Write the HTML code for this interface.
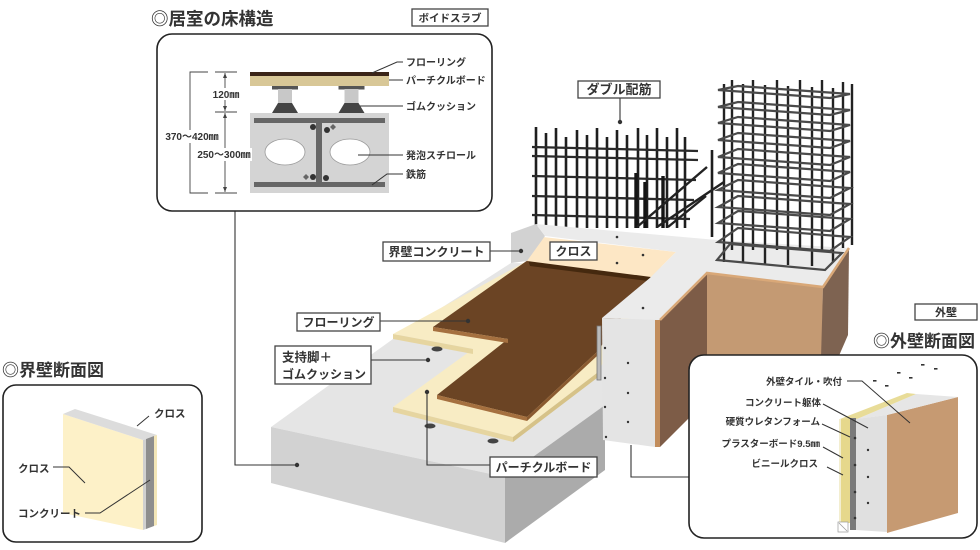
<!DOCTYPE html>
<html><head><meta charset="utf-8">
<style>
html,body{margin:0;padding:0;background:#fff;}
svg{display:block;}
text{font-family:"Liberation Sans","Noto Sans CJK JP",sans-serif;fill:#333;font-weight:bold;}
</style></head><body>
<svg width="980" height="550" viewBox="0 0 980 550" xmlns="http://www.w3.org/2000/svg">

<!-- ===== Rebar grid (double) ===== -->
<g stroke="#1e1e1e" stroke-width="2.6" stroke-linecap="butt">
<line x1="536" y1="127" x2="536" y2="228"/><line x1="546" y1="133" x2="546" y2="228"/>
<line x1="556" y1="128" x2="556" y2="228"/><line x1="566" y1="137" x2="566" y2="228"/>
<line x1="577" y1="130" x2="577" y2="228"/><line x1="587" y1="135" x2="587" y2="228"/>
<line x1="597" y1="128" x2="597" y2="228"/><line x1="607" y1="137" x2="607" y2="228"/>
<line x1="617" y1="130" x2="617" y2="228"/><line x1="627" y1="135" x2="627" y2="228"/>
<line x1="638" y1="128" x2="638" y2="228"/><line x1="647" y1="135" x2="647" y2="228"/>
<line x1="657" y1="128" x2="657" y2="228"/><line x1="667" y1="137" x2="667" y2="228"/>
<line x1="677" y1="128" x2="677" y2="228"/><line x1="685" y1="137" x2="685" y2="228"/>
<line x1="712" y1="150" x2="712" y2="237"/>
</g>
<g stroke="#2a2a2a" stroke-width="2.3">
<line x1="532" y1="147" x2="698" y2="151"/><line x1="532" y1="156" x2="698" y2="160"/>
<line x1="532" y1="176" x2="696" y2="180"/><line x1="532" y1="196" x2="694" y2="200"/>
<line x1="532" y1="215" x2="690" y2="219"/>
</g>
<g stroke="#151515" stroke-width="3.4">
<line x1="636" y1="173" x2="636" y2="228"/><line x1="645" y1="182" x2="645" y2="228"/>
<line x1="663" y1="176" x2="663" y2="228"/>
</g>
<g stroke="#222" stroke-width="2.4">
<line x1="637" y1="227" x2="707" y2="167"/><line x1="657" y1="227" x2="724" y2="182"/>
<line x1="668" y1="227" x2="706" y2="196"/>
</g>

<!-- ===== Slab ===== -->
<polygon points="271,427 393,339 511,263 720,268 605,405 505,477" fill="#e5e5e5"/>
<polygon points="271,427 505,477 505,543 271,483" fill="#d2d2d2"/>
<polygon points="505,477 605,405 605,470 505,543" fill="#ababab"/>

<!-- ===== Particle board ===== -->
<polygon points="393,334 473,349 393,407 513,437 597,373 655,276 527,261" fill="#f8ecc4"/>
<polygon points="393,334 473,349 473,354 393,339" fill="#e6d5a0"/>
<polygon points="393,407 513,437 513,442 393,412" fill="#e6d5a0"/>
<polygon points="513,437 597,373 597,378 513,442" fill="#d6c288"/>

<!-- ===== Flooring ===== -->
<polygon points="433,327 508,339 437,395 527,417 597,352 652,275 528,260" fill="#6b4424"/>
<polygon points="433,327 508,339 508,343 433,331" fill="#a5703f"/>
<polygon points="437,395 527,417 527,421 437,399" fill="#a5703f"/>
<polygon points="527,417 597,352 597,356 527,421" fill="#8a5a30"/>
<polygon points="528,260 652,275 648,281 530,266" fill="#45290f"/>

<!-- ===== Partition wall ===== -->
<polygon points="543,237 676,252 651,277 527,261" fill="#fde7c5"/>
<polygon points="511,233 536,224 545,236 527,261 511,263" fill="#d2d2d2"/>

<!-- ===== L wall top ===== -->
<polygon points="536,224 717,240 849,248 823,287 707,273 660,320 602,318 651,277 676,252 545,236" fill="#ebebeb"/>

<!-- wall end + brown faces -->
<polygon points="602,318 655,320 655,447 603,440" fill="#e4e4e4"/>
<polygon points="655,320 660,320 660,447 655,447" fill="#c28d5c"/>
<polygon points="660,320 707,273 707,400 660,447" fill="#7d5c47"/>
<polygon points="707,273 823,287 821,400 707,400" fill="#c49a73"/>
<polygon points="823,287 849,248 848,335 838,358 821,358" fill="#7e6351"/>
<polyline points="660,320 707,273 823,287 849,248" fill="none" stroke="#d9a878" stroke-width="2.5"/>
<rect x="597" y="326" width="4" height="54" fill="#bbb" stroke="#777" stroke-width="0.8"/>

<!-- ===== Column cage ===== -->
<g stroke="#222" stroke-width="2.4">
<line x1="724" y1="84" x2="724" y2="262"/><line x1="732" y1="80" x2="732" y2="250"/>
<line x1="743" y1="84" x2="743" y2="262"/><line x1="753" y1="80" x2="753" y2="250"/>
<line x1="765" y1="85" x2="765" y2="264"/><line x1="777" y1="80" x2="777" y2="250"/>
<line x1="788" y1="86" x2="788" y2="265"/><line x1="800" y1="80" x2="800" y2="250"/>
<line x1="812" y1="87" x2="812" y2="266"/><line x1="822" y1="80" x2="822" y2="250"/>
<line x1="833" y1="88" x2="833" y2="262"/><line x1="843" y1="82" x2="843" y2="248"/>
<line x1="852" y1="84" x2="852" y2="245"/>
</g>
<g fill="none" stroke="#4a4a4a" stroke-width="2.2">
<polygon points="718,90 830,98 850,94 738,86"/>
<polygon points="718,107 830,115 850,110 738,102"/>
<polygon points="718,123 830,131 850,125 738,117"/>
<polygon points="718,140 830,148 850,141 738,133"/>
<polygon points="718,157 830,165 850,157 738,149"/>
<polygon points="718,173 830,181 850,172 738,164"/>
<polygon points="718,190 830,198 850,188 738,180"/>
<polygon points="718,207 830,215 850,204 738,196"/>
<polygon points="718,223 830,231 850,219 738,211"/>
<polygon points="718,242 830,251 850,237 738,228"/>
<polygon points="717,260 825,270 842,253 730,244"/>
</g>

<!-- dots & holes -->
<g fill="#333">
<circle cx="617" cy="237" r="1.3"/><circle cx="643" cy="255" r="1.3"/><circle cx="617" cy="263" r="1.3"/>
<circle cx="643" cy="308" r="1.3"/><circle cx="605" cy="348" r="1.2"/><circle cx="628" cy="363" r="1.2"/>
<circle cx="605" cy="378" r="1.2"/><circle cx="628" cy="393" r="1.2"/><circle cx="605" cy="407" r="1.2"/>
<circle cx="628" cy="422" r="1.2"/><circle cx="606" cy="437" r="1.2"/>
<circle cx="297" cy="465" r="2.2"/><circle cx="428" cy="360" r="2.2"/><circle cx="427" cy="392" r="2.2"/>
<circle cx="468" cy="321" r="2.2"/><circle cx="521" cy="251" r="2.2"/><circle cx="620" cy="122" r="2.2"/>
</g>
<g fill="#444">
<ellipse cx="437" cy="349" rx="5.5" ry="2.5"/><ellipse cx="430" cy="426" rx="5.5" ry="2.5"/>
<ellipse cx="493" cy="441" rx="5.5" ry="2.5"/>
</g>

<!-- leaders main -->
<g fill="none" stroke="#333" stroke-width="1.1">
<polyline points="235,211 235,465 297,465"/>
<line x1="490" y1="251" x2="521" y2="251"/>
<line x1="380" y1="321" x2="468" y2="321"/>
<line x1="371" y1="360" x2="428" y2="360"/>
<polyline points="427,392 427,465 490,465"/>
<line x1="620" y1="98" x2="620" y2="122"/>
<polyline points="631,445 631,477 689,477"/>
</g>

<!-- label boxes main -->
<g fill="#fff" stroke="#444" stroke-width="1.3">
<rect x="578" y="81" width="82" height="17"/>
<rect x="383" y="242" width="107" height="19"/>
<rect x="550" y="242" width="47" height="18"/>
<rect x="297" y="313" width="83" height="18"/>
<rect x="275" y="346" width="96" height="38"/>
<rect x="490" y="457" width="107" height="20"/>
<rect x="412" y="9" width="76" height="17"/>
<rect x="915" y="304" width="62" height="16"/>
</g>
<text x="619" y="94" font-size="13" text-anchor="middle">ダブル配筋</text>
<text x="436.5" y="256" font-size="12" text-anchor="middle">界壁コンクリート</text>
<text x="573.5" y="255.5" font-size="12" text-anchor="middle">クロス</text>
<text x="338.5" y="326.5" font-size="12" text-anchor="middle">フローリング</text>
<text x="282" y="361.5" font-size="12.5">支持脚＋</text>
<text x="282" y="378.5" font-size="12">ゴムクッション</text>
<text x="543.5" y="471.5" font-size="12" text-anchor="middle">パーチクルボード</text>
<text x="450" y="21.5" font-size="10.5" text-anchor="middle">ボイドスラブ</text>
<text x="946" y="316" font-size="11" text-anchor="middle">外壁</text>

<!-- titles -->
<text x="151" y="25" font-size="17.5">◎居室の床構造</text>
<text x="2" y="376" font-size="17">◎界壁断面図</text>
<text x="873" y="347" font-size="17">◎外壁断面図</text>

<!-- ===== Top-left box ===== -->
<rect x="157" y="34" width="335" height="177" rx="15" fill="#fff" stroke="#222" stroke-width="1.6"/>
<rect x="250" y="72" width="139" height="4" fill="#3a2418"/>
<rect x="250" y="76" width="139" height="10" fill="#d8c797"/>
<g>
<rect x="272" y="86" width="26" height="3.5" fill="#555"/>
<rect x="278" y="89" width="14" height="14" fill="#c8c8c8"/>
<polygon points="278,103 292,103 298,113 272,113" fill="#444"/>
<rect x="338.5" y="86" width="26" height="3.5" fill="#555"/>
<rect x="344.5" y="89" width="14" height="14" fill="#c8c8c8"/>
<polygon points="344.5,103 358.5,103 364.5,113 338.5,113" fill="#444"/>
</g>
<rect x="250" y="113" width="139" height="80" fill="#d4d4d4"/>
<rect x="254" y="118" width="131" height="5" fill="#666"/>
<rect x="254" y="182" width="131" height="5" fill="#666"/>
<rect x="316" y="118" width="6" height="69" fill="#666"/>
<ellipse cx="285" cy="152" rx="20" ry="13" fill="#fff" stroke="#999" stroke-width="0.8"/>
<ellipse cx="350" cy="152" rx="20" ry="13" fill="#fff" stroke="#999" stroke-width="0.8"/>
<g fill="#333"><circle cx="313" cy="127" r="3"/><circle cx="327" cy="130" r="3"/><circle cx="313" cy="177" r="3"/><circle cx="326" cy="178" r="3"/></g>
<polygon points="330,127 333,124 336,127 333,130" fill="#666"/>
<polygon points="303,177 306,174 309,177 306,180" fill="#666"/>
<g stroke="#444" stroke-width="0.9" fill="none">
<polyline points="208,72 190,72 190,193 208,193"/>
<line x1="215" y1="72" x2="237" y2="72"/><line x1="215" y1="112" x2="237" y2="112"/><line x1="215" y1="193" x2="237" y2="193"/>
<line x1="225" y1="73" x2="225" y2="111"/><line x1="225" y1="113" x2="225" y2="192"/>
</g>
<g fill="#444">
<polygon points="225,73 223,78 227,78"/><polygon points="225,111 223,106 227,106"/>
<polygon points="225,113 223,118 227,118"/><polygon points="225,192 223,187 227,187"/>
</g>
<rect x="212" y="88" width="28" height="12" fill="#fff"/>
<rect x="166" y="130" width="53" height="13" fill="#fff"/>
<rect x="196" y="148" width="56" height="13" fill="#fff"/>
<text x="226" y="98" font-size="10" text-anchor="middle">120㎜</text>
<text x="192" y="140" font-size="10" text-anchor="middle">370～420㎜</text>
<text x="224" y="158" font-size="10" text-anchor="middle">250～300㎜</text>
<g stroke="#333" stroke-width="1" fill="none">
<polyline points="372,73 397,62 403,62"/>
<line x1="389" y1="80" x2="403" y2="80"/>
<line x1="360" y1="106" x2="403" y2="106"/>
<line x1="358" y1="155" x2="403" y2="155"/>
<polyline points="372,185 387,174 403,174"/>
</g>
<g font-size="10">
<text x="406" y="66">フローリング</text>
<text x="406" y="84">パーチクルボード</text>
<text x="406" y="110">ゴムクッション</text>
<text x="406" y="159">発泡スチロール</text>
<text x="406" y="178">鉄筋</text>
</g>

<!-- ===== Left box ===== -->
<rect x="3" y="385" width="199" height="157" rx="13" fill="#fff" stroke="#222" stroke-width="1.6"/>
<polygon points="63,414 143,440 143,530 63,513" fill="#fdf1c8"/>
<polygon points="63,414 75,409 157,435 143,440" fill="#dcdcdc"/>
<polygon points="143,440 146,439 146,529 143,530" fill="#d0d0d0"/>
<polygon points="146,439 154,436 154,526 146,529" fill="#8e8e8e"/>
<polygon points="154,436 157,435 157,525 154,526" fill="#f3e6b8"/>
<g stroke="#333" stroke-width="1" fill="none">
<line x1="137" y1="426" x2="149" y2="416"/>
<polyline points="53,467 69,467 85,483"/>
<polyline points="85,513 100,513 150,480"/>
</g>
<g font-size="10.5">
<text x="154" y="417">クロス</text>
<text x="18" y="472">クロス</text>
<text x="18" y="517">コンクリート</text>
</g>

<!-- ===== Right box ===== -->
<rect x="689" y="355" width="288" height="183" rx="15" fill="#fff" stroke="#222" stroke-width="1.6"/>
<polygon points="887,415 958,397 958,513 887,533" fill="#c69a72"/>
<polygon points="857,419 887,415 958,397 916,394" fill="#e6e6e6"/>
<polygon points="840,419 857,419 916,394 907,393" fill="#e8dc98"/>
<polygon points="856,419 887,415 887,532 856,530" fill="#e0e0e0"/>
<rect x="850" y="418" width="6" height="112" fill="#7a7a7a"/>
<rect x="841" y="419" width="9" height="104" fill="#e6d88c"/>
<rect x="839" y="419" width="2" height="104" fill="#f3eed0"/>
<rect x="838" y="522" width="10" height="10" fill="#fff" stroke="#999" stroke-width="0.7"/>
<line x1="839" y1="523" x2="847" y2="531" stroke="#999" stroke-width="0.7"/>
<g fill="#333">
<circle cx="855" cy="438" r="1.3"/><circle cx="855" cy="465" r="1.3"/><circle cx="855" cy="492" r="1.3"/><circle cx="855" cy="518" r="1.3"/>
<circle cx="868" cy="450" r="1.2"/><circle cx="868" cy="477" r="1.2"/><circle cx="868" cy="503" r="1.2"/>
<rect x="873" y="380" width="3.5" height="1.6"/><rect x="885" y="385" width="3.5" height="1.6"/>
<rect x="897" y="372" width="3.5" height="1.6"/><rect x="909" y="377" width="3.5" height="1.6"/>
<rect x="921" y="364" width="3.5" height="1.6"/><rect x="934" y="368" width="3.5" height="1.6"/>
</g>
<g stroke="#333" stroke-width="1" fill="none">
<polyline points="847,381 862,381 910,423"/>
<line x1="823" y1="404" x2="868" y2="428"/>
<line x1="822" y1="424" x2="850" y2="437"/>
<line x1="823" y1="447" x2="843" y2="458"/>
<line x1="827" y1="467" x2="843" y2="475"/>
</g>
<g font-size="9.5" text-anchor="end">
<text x="842" y="385">外壁タイル・吹付</text>
<text x="821" y="406">コンクリート躯体</text>
<text x="820" y="425">硬質ウレタンフォーム</text>
<text x="820" y="447">プラスターボード9.5㎜</text>
<text x="818" y="467">ビニールクロス</text>
</g>

</svg>
</body></html>
